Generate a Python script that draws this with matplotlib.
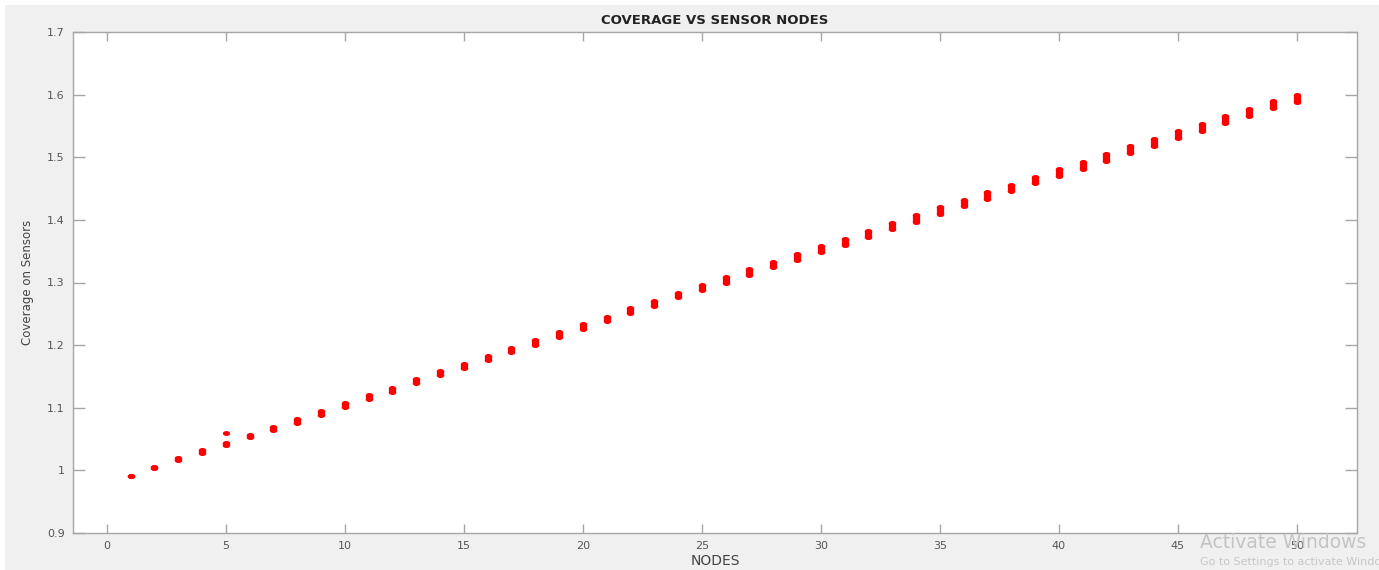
import numpy as np
import matplotlib
matplotlib.use("Agg")
import matplotlib.pyplot as plt
from matplotlib.patches import Rectangle

# sensor node index and mean coverage per node
nodes = list(range(1, 51))
coverage = [0.991, 1.005, 1.018, 1.030, 1.042, 1.055, 1.067, 1.079, 1.092, 1.104,
            1.117, 1.129, 1.142, 1.155, 1.167, 1.179, 1.192, 1.204, 1.217, 1.230,
            1.242, 1.255, 1.267, 1.280, 1.292, 1.304, 1.317, 1.329, 1.341, 1.353,
            1.365, 1.377, 1.390, 1.402, 1.415, 1.427, 1.439, 1.451, 1.464, 1.476,
            1.487, 1.500, 1.512, 1.524, 1.536, 1.548, 1.560, 1.572, 1.584, 1.594]
# spread of the coverage samples at each node
spread = [0.0, 0.001, 0.0025, 0.0035, 0.004, 0.0045, 0.005, 0.0055, 0.006, 0.0065,
          0.0065, 0.0065, 0.0065, 0.007, 0.007, 0.007, 0.007, 0.007, 0.007, 0.007,
          0.007, 0.0075, 0.0075, 0.0075, 0.0075, 0.008, 0.0085, 0.009, 0.009, 0.0095,
          0.010, 0.010, 0.010, 0.010, 0.010, 0.0105, 0.0105, 0.0105, 0.0105, 0.0105,
          0.011, 0.011, 0.011, 0.011, 0.011, 0.011, 0.011, 0.011, 0.011, 0.011]
# stray sample at node 5
extra_nodes = [5]
extra_cov = [1.059]

xticks = [0, 5, 10, 15, 20, 25, 30, 35, 40, 45, 50]
yticks = [0.9, 1.0, 1.1, 1.2, 1.3, 1.4, 1.5, 1.6, 1.7]
ytick_labels = ["0.9", "1", "1.1", "1.2", "1.3", "1.4", "1.5", "1.6", "1.7"]

W, H = 1379, 570
fig = plt.figure(figsize=(W / 100, H / 100), dpi=100)
fig.patch.set_facecolor("white")
fig.patches.append(Rectangle((5 / W, 0), 1, 1 - 5 / H, transform=fig.transFigure,
                             facecolor="#f0f0f0", edgecolor="none", zorder=-10))

ax = fig.add_axes([73 / W, (H - 533) / H, (1357 - 73) / W, (533 - 32) / H])
ax.set_facecolor("white")

# flattened dot marker
t = np.linspace(0, 2 * np.pi, 40)
dot = np.column_stack([np.cos(t), 0.68 * np.sin(t)])

cov = np.array(coverage)
spr = np.array(spread)
low = cov - spr / 2
high = cov + spr / 2

ax.vlines(nodes, low, high, colors="#ff0000", linewidth=5.2, zorder=3)
ax.plot(nodes, low, linestyle="none", marker=dot, markersize=5.4,
        color="#ff0000", markeredgewidth=0, zorder=4)
ax.plot(nodes, high, linestyle="none", marker=dot, markersize=5.4,
        color="#ff0000", markeredgewidth=0, zorder=4)
ax.plot(extra_nodes, extra_cov, linestyle="none", marker=dot, markersize=5.2,
        color="#ff0000", markeredgewidth=0, zorder=4)

ax.set_xlim(-1.42, 52.53)
ax.set_ylim(0.9, 1.7)
ax.set_xticks(xticks)
ax.set_yticks(yticks)
ax.set_yticklabels(ytick_labels)

spine_col = "#a6a6a6"
for s in ax.spines.values():
    s.set_color(spine_col)
    s.set_linewidth(1.0)
ax.tick_params(axis="both", direction="in", colors=spine_col, labelcolor="#555555",
               labelsize=8, top=True, right=True, width=1.0)
ax.tick_params(axis="x", length=6.5, pad=6)
ax.tick_params(axis="y", length=8.5, pad=6)

ax.set_title("COVERAGE VS SENSOR NODES", fontsize=9.5, fontweight="bold",
             color="#222222", pad=6)
ax.set_xlabel("NODES", fontsize=10, color="#444444", labelpad=2)
ax.set_ylabel("Coverage on Sensors", fontsize=8.5, color="#444444", labelpad=9)

# OS activation watermark
fig.text(1200 / W, 1 - 542 / H, "Activate Windows", fontsize=13.5, color="#c4c4c4",
         va="center", ha="left")
fig.text(1200 / W, 1 - 562 / H, "Go to Settings to activate Windows.", fontsize=8,
         color="#c8c8c8", va="center", ha="left")

fig.savefig("out.png", dpi=100, facecolor=fig.get_facecolor())
